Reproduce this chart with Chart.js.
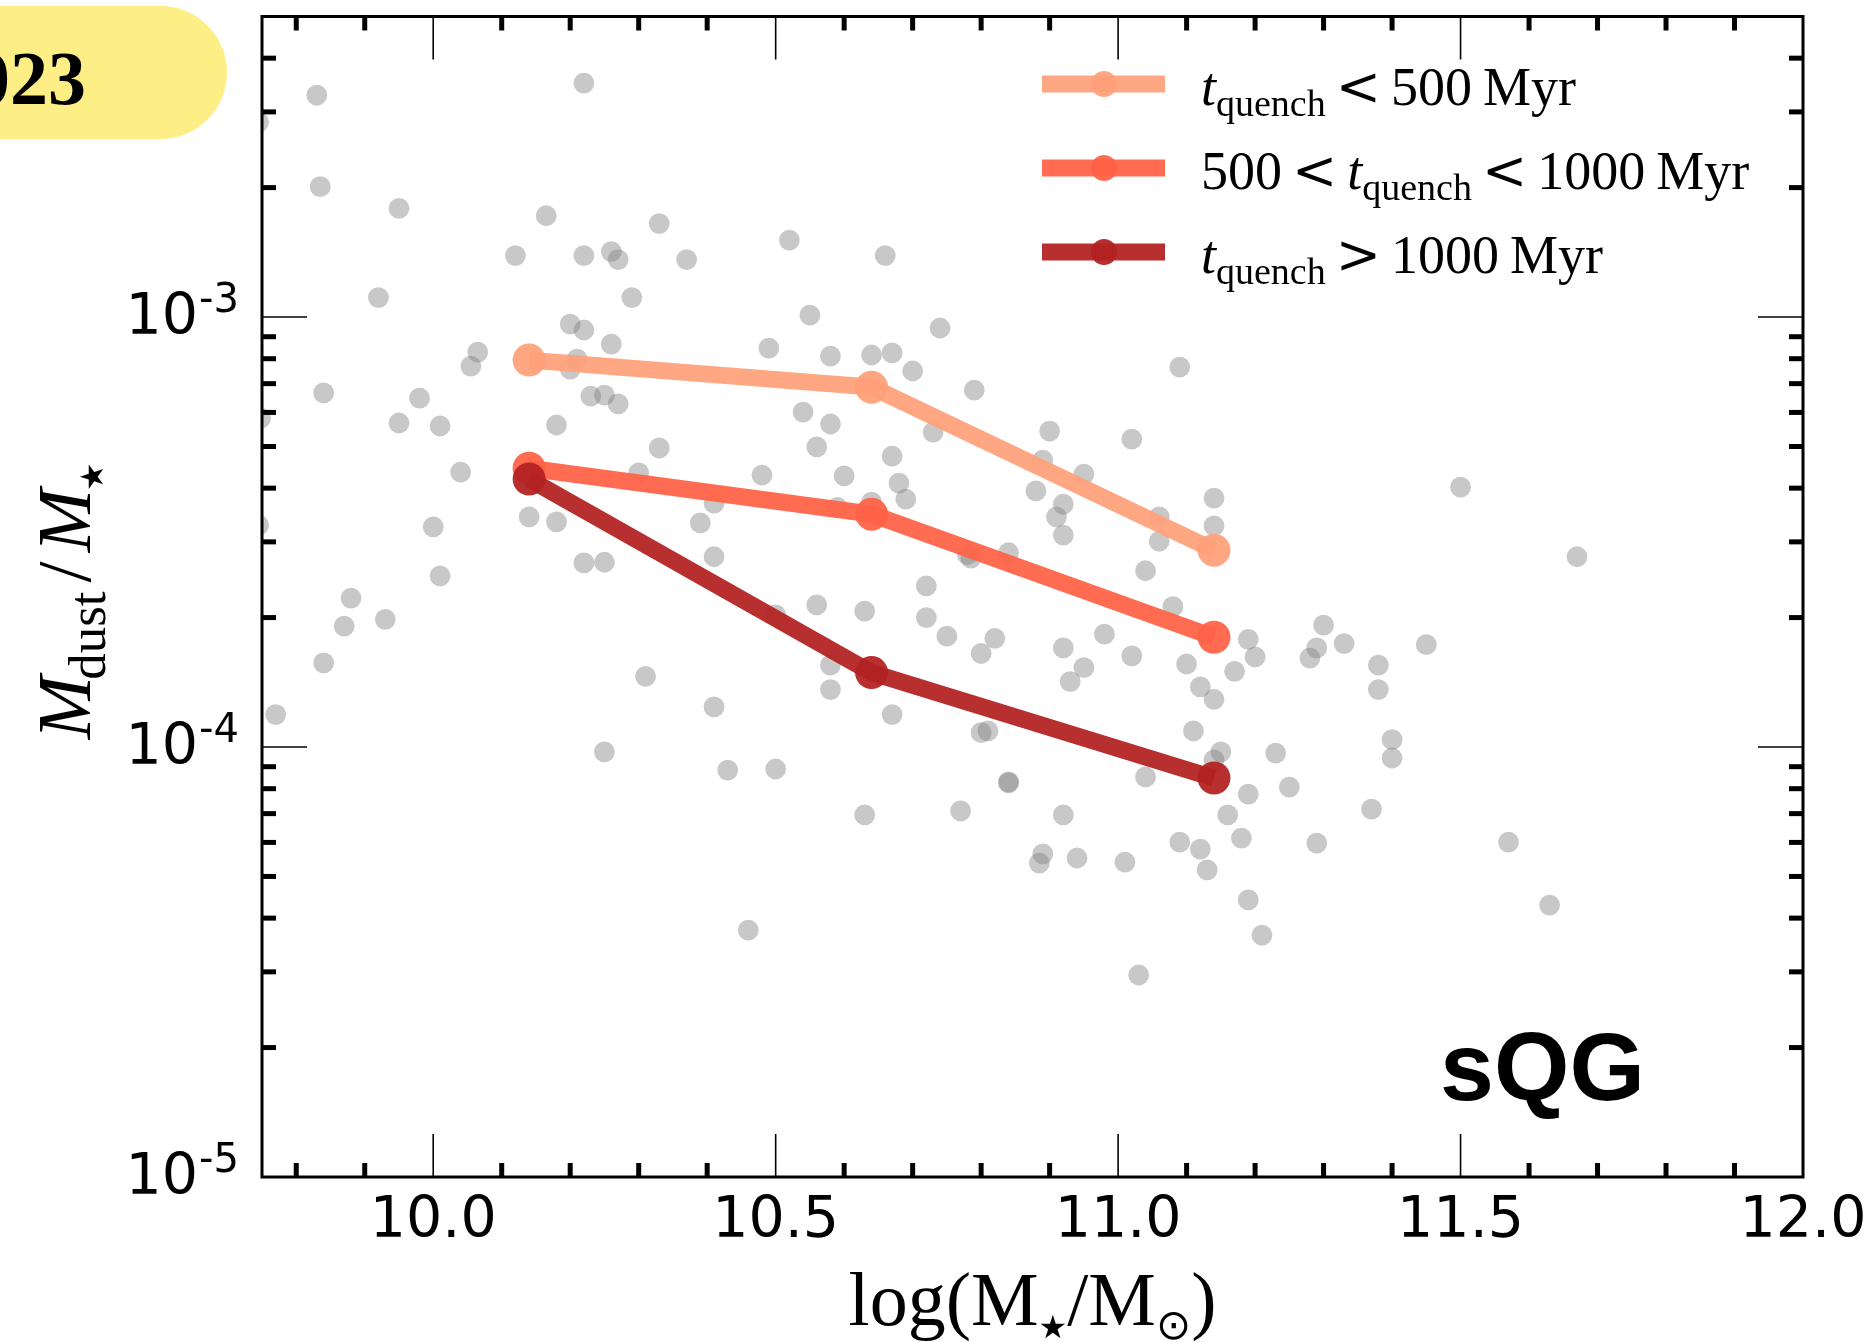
<!DOCTYPE html>
<html>
<head>
<meta charset="utf-8">
<script src="https://cdn.jsdelivr.net/npm/chart.js@4.4.1/dist/chart.umd.min.js"></script>
<style>
  html, body { margin: 0; padding: 0; background: #ffffff; overflow: hidden; }
  #wrap { position: relative; width: 1874px; height: 1342px; }
  #c { position: absolute; left: 0; top: 0; }
</style>
</head>
<body>
<div id="wrap"><canvas id="c" width="1874" height="1342"></canvas></div>
<script>
// Median dust-to-stellar mass ratio in stellar-mass bins, split by quenching time
const massBins = [10.14, 10.64, 11.14];
const quenchShort = [7.94e-4, 6.87e-4, 2.87e-4];   // t_quench < 500 Myr
const quenchMid   = [4.45e-4, 3.48e-4, 1.80e-4];   // 500 < t_quench < 1000 Myr
const quenchLong  = [4.20e-4, 1.49e-4, 8.47e-5];   // t_quench > 1000 Myr

// Individual galaxies: log stellar mass and dust-to-stellar mass ratio
const galaxyLogMass = [
  9.83, 10.22, 9.835, 9.95, 10.165, 10.33, 10.12, 10.22, 10.26, 10.27,
  10.37, 10.52, 10.66, 9.92, 10.29, 10.55, 10.74, 10.20, 10.22, 10.26,
  10.065, 10.055, 10.21, 10.20, 10.49, 10.58, 10.64, 10.67, 10.70, 9.84,
  9.98, 10.23, 10.25, 10.27, 9.95, 10.01, 10.18, 10.54, 10.58, 10.73,
  10.33, 10.56, 10.67, 10.04, 10.30, 10.48, 10.60, 10.68, 10.69, 10.41,
  10.59, 10.64, 10.14, 10.18, 10.39, 10.00, 9.745, 9.748, 9.745,
  10.79, 11.09, 10.90, 11.02, 10.89, 10.95, 10.88, 10.92, 10.91, 10.92,
  11.06, 11.14, 11.14, 11.50,
  10.22, 10.25, 10.41, 10.01, 9.88, 9.87, 9.93, 9.84, 9.77, 10.31,
  10.41, 10.56, 10.63, 10.72, 10.72, 10.50, 10.58, 10.58, 10.67, 10.25,
  10.43, 10.50, 10.63, 10.46,
  11.06, 11.67, 10.78, 10.785, 10.84, 11.04, 11.08, 10.75, 10.82, 10.80,
  10.92, 10.98, 11.02, 10.95, 10.93, 11.10, 11.19, 11.20, 11.17, 11.12,
  11.14, 11.30, 11.29, 11.28, 11.33, 11.38, 11.38, 11.45, 11.11, 11.15,
  11.14, 11.23, 11.40, 11.40, 10.80, 10.81, 10.84, 10.84, 11.04, 11.19,
  11.25, 11.16, 10.77, 10.92, 11.37, 11.09, 11.12, 11.18, 11.29, 11.57,
  10.89, 10.885, 10.94, 11.01, 11.13, 11.19, 11.21, 11.63, 11.03
];
const galaxyDustRatio = [
  3.28e-3, 3.50e-3, 2.01e-3, 1.79e-3, 1.72e-3, 1.65e-3, 1.39e-3, 1.39e-3, 1.42e-3, 1.36e-3,
  1.36e-3, 1.51e-3, 1.39e-3, 1.11e-3, 1.11e-3, 1.01e-3, 9.43e-4, 9.63e-4, 9.33e-4, 8.65e-4,
  8.29e-4, 7.69e-4, 7.98e-4, 7.57e-4, 8.47e-4, 8.11e-4, 8.16e-4, 8.25e-4, 7.49e-4, 6.66e-4,
  6.48e-4, 6.55e-4, 6.58e-4, 6.28e-4, 5.67e-4, 5.58e-4, 5.61e-4, 6.01e-4, 5.64e-4, 5.40e-4,
  4.96e-4, 4.99e-4, 4.75e-4, 4.36e-4, 4.34e-4, 4.29e-4, 4.27e-4, 4.11e-4, 3.77e-4, 3.69e-4,
  3.61e-4, 3.71e-4, 3.43e-4, 3.34e-4, 3.32e-4, 3.25e-4, 2.84e-3, 5.82e-4, 3.28e-4,
  6.76e-4, 7.65e-4, 5.43e-4, 5.20e-4, 4.65e-4, 4.31e-4, 3.94e-4, 3.67e-4, 3.43e-4, 3.11e-4,
  3.43e-4, 3.79e-4, 3.27e-4, 4.02e-4,
  2.68e-4, 2.69e-4, 2.77e-4, 2.50e-4, 2.22e-4, 1.91e-4, 1.98e-4, 1.57e-4, 1.19e-4, 1.46e-4,
  1.24e-4, 2.14e-4, 2.07e-4, 2.37e-4, 2.00e-4, 2.03e-4, 1.55e-4, 1.36e-4, 1.19e-4, 9.74e-5,
  8.84e-5, 8.89e-5, 6.95e-5, 3.75e-5,
  3.01e-4, 2.77e-4, 2.80e-4, 2.75e-4, 2.83e-4, 2.57e-4, 2.12e-4, 1.81e-4, 1.79e-4, 1.65e-4,
  1.70e-4, 1.83e-4, 1.63e-4, 1.53e-4, 1.42e-4, 1.56e-4, 1.78e-4, 1.62e-4, 1.50e-4, 1.38e-4,
  1.29e-4, 1.92e-4, 1.70e-4, 1.61e-4, 1.74e-4, 1.55e-4, 1.36e-4, 1.73e-4, 1.09e-4, 9.74e-5,
  9.33e-5, 9.68e-5, 1.04e-4, 9.43e-5, 1.08e-4, 1.09e-4, 8.25e-5, 8.30e-5, 8.52e-5, 7.77e-5,
  8.07e-5, 6.95e-5, 7.10e-5, 6.95e-5, 7.17e-5, 6.01e-5, 5.79e-5, 6.14e-5, 5.98e-5, 6.01e-5,
  5.64e-5, 5.37e-5, 5.52e-5, 5.40e-5, 5.18e-5, 4.41e-5, 3.65e-5, 4.29e-5, 2.95e-5
];

// Axis ticks and labels
const xTickValues = [10.0, 10.5, 11.0, 11.5, 12.0];
const yTickValues = [1e-5, 1e-4, 1e-3];
const yTickExponents = ['-5', '-4', '-3'];

// Legend entries, as (text, style) runs
const legendEntries = [
  [['t', 'it'], ['quench', 'sub'], ['<', 'rel'], ['500', 'rm'], ['Myr', 'unit']],
  [['500', 'rm'], ['<', 'rel'], ['t', 'it'], ['quench', 'sub'], ['<', 'rel'], ['1000', 'rm'], ['Myr', 'unit']],
  [['t', 'it'], ['quench', 'sub'], ['>', 'rel'], ['1000', 'rm'], ['Myr', 'unit']]
];
const panelTag = 'sQG';
const badgeText = '023';

const SERIF = '"Liberation Serif", "DejaVu Serif", serif';
const SANS = '"DejaVu Sans", sans-serif';

// draw (or just measure) a sequence of styled text runs; pre/post add spacing
function runs(ctx, parts, x, y, draw) {
  let cx = x;
  for (const p of parts) {
    cx += p.pre || 0;
    ctx.font = p.font;
    if (draw) ctx.fillText(p.text, cx, y + (p.dy || 0));
    cx += ctx.measureText(p.text).width + (p.post || 0);
  }
  return cx - x;
}

function seg(ctx, x1, y1, x2, y2) {
  ctx.beginPath(); ctx.moveTo(x1, y1); ctx.lineTo(x2, y2); ctx.stroke();
}

const decorations = {
  id: 'decorations',
  afterDraw(chart) {
    const ctx = chart.ctx;
    const a = chart.chartArea;
    const xs = chart.scales.x, ys = chart.scales.y;
    ctx.save();
    ctx.fillStyle = '#000';
    ctx.strokeStyle = '#000';
    ctx.textAlign = 'left';
    ctx.textBaseline = 'alphabetic';

    // year badge in the corner
    ctx.fillStyle = '#fdef85';
    ctx.beginPath();
    const bTop = 6, bBot = 139, bRight = 227, r = (bBot - bTop) / 2;
    ctx.moveTo(-50, bTop);
    ctx.lineTo(bRight - r, bTop);
    ctx.arc(bRight - r, bTop + r, r, -Math.PI / 2, Math.PI / 2);
    ctx.lineTo(-50, bBot);
    ctx.closePath();
    ctx.fill();
    ctx.fillStyle = '#000';
    ctx.font = 'bold 76px ' + SERIF;
    ctx.fillText(badgeText, -28, 104);

    // axes frame
    ctx.lineWidth = 3;
    ctx.strokeRect(a.left, a.top, a.right - a.left, a.bottom - a.top);

    // x ticks, inward on bottom and top
    ctx.lineWidth = 1.6;
    for (const v of xTickValues) {
      const px = xs.getPixelForValue(v);
      seg(ctx, px, a.bottom, px, a.bottom - 43);
      seg(ctx, px, a.top, px, a.top + 43);
    }
    ctx.lineWidth = 5;
    for (let k = Math.ceil(xs.min * 10 + 1e-6); k < xs.max * 10 - 1e-6; k++) {
      if (k % 5 === 0) continue;
      const px = xs.getPixelForValue(k / 10);
      seg(ctx, px, a.bottom, px, a.bottom - 14);
      seg(ctx, px, a.top, px, a.top + 14);
    }

    // y ticks, inward on left and right
    ctx.lineWidth = 1.6;
    for (const v of yTickValues) {
      const py = ys.getPixelForValue(v);
      seg(ctx, a.left, py, a.left + 45, py);
      seg(ctx, a.right, py, a.right - 45, py);
    }
    ctx.lineWidth = 5;
    for (let d = -5; d <= -3; d++) {
      for (let m = 2; m <= 9; m++) {
        const v = m * Math.pow(10, d);
        if (v >= ys.max * 0.999) continue;
        const py = ys.getPixelForValue(v);
        seg(ctx, a.left, py, a.left + 14, py);
        seg(ctx, a.right, py, a.right - 14, py);
      }
    }

    // y tick labels: 10 with a raised exponent
    yTickValues.forEach((v, i) => {
      const py = ys.getPixelForValue(v);
      ctx.font = '40px ' + SANS;
      const wSup = ctx.measureText(yTickExponents[i]).width;
      const right = 239;
      ctx.fillText(yTickExponents[i], right - wSup, py - 5);
      ctx.font = '57px ' + SANS;
      const wBase = ctx.measureText('10').width;
      ctx.fillText('10', right - wSup - wBase - 1, py + 17);
    });

    // axis titles
    const big = 76;
    const xTitle = [
      { text: 'log(', font: big + 'px ' + SERIF },
      { text: 'M', font: big + 'px ' + SERIF },
      { text: '\u2605', font: '32px ' + SANS, dy: 13 },
      { text: '/', font: big + 'px ' + SERIF },
      { text: 'M', font: big + 'px ' + SERIF },
      { text: '\u2299', font: '42px ' + SANS, dy: 14 },
      { text: ')', font: big + 'px ' + SERIF }
    ];
    const xc = (a.left + a.right) / 2;
    const wx = runs(ctx, xTitle, 0, 0, false);
    runs(ctx, xTitle, xc - wx / 2, 1325, true);

    const yTitle = [
      { text: 'M', font: 'italic ' + big + 'px ' + SERIF },
      { text: 'dust', font: '53px ' + SERIF, dy: 15, pre: -4 },
      { text: '/', font: big + 'px ' + SERIF, pre: 9, post: 9 },
      { text: 'M', font: 'italic ' + big + 'px ' + SERIF },
      { text: '\u2605', font: '32px ' + SANS, dy: 13, pre: -2 }
    ];
    const wy = runs(ctx, yTitle, 0, 0, false);
    ctx.save();
    ctx.translate(90, (a.top + a.bottom) / 2 + 4);
    ctx.rotate(-Math.PI / 2);
    runs(ctx, yTitle, -wy / 2, 0, true);
    ctx.restore();

    // legend
    const styles = {
      rm: { font: '54px ' + SERIF, dy: 0 },
      unit: { font: '54px ' + SERIF, dy: 0, pre: 11 },
      rel: { font: '54px "DejaVu Serif", serif', dy: 0, pre: 10, post: 10 },
      it: { font: 'italic 54px ' + SERIF, dy: 0 },
      sub: { font: '38px ' + SERIF, dy: 11 }
    };
    const lines = chart.data.datasets.filter(ds => ds.showLine);
    lines.forEach((ds, i) => {
      const rowY = 84 + i * 84;
      ctx.strokeStyle = ds.borderColor;
      ctx.lineWidth = ds.borderWidth;
      ctx.lineCap = 'butt';
      seg(ctx, 1042, rowY, 1165, rowY);
      ctx.fillStyle = ds.pointBackgroundColor;
      ctx.beginPath(); ctx.arc(1104, rowY, 13, 0, Math.PI * 2); ctx.fill();
      ctx.fillStyle = '#000';
      const parts = legendEntries[i].map(([t, s]) => Object.assign({ text: t }, styles[s]));
      runs(ctx, parts, 1201, rowY + 21, true);
    });

    // panel tag
    ctx.fillStyle = '#000';
    ctx.font = 'bold 97px "Liberation Sans", Arial, sans-serif';
    ctx.fillText(panelTag, 1440, 1100);

    ctx.restore();
  }
};

const galaxyPoints = galaxyLogMass.map((m, i) => ({ x: m, y: galaxyDustRatio[i] }));
const binLine = vals => massBins.map((m, i) => ({ x: m, y: vals[i] }));

function lineSet(label, vals, color, order) {
  return {
    label, data: binLine(vals), showLine: true,
    borderColor: color, backgroundColor: color,
    pointBackgroundColor: color, pointBorderColor: color,
    borderWidth: 17, pointRadius: 16.5, pointHoverRadius: 16.5, pointBorderWidth: 0,
    order, clip: 0
  };
}

new Chart(document.getElementById('c'), {
  type: 'scatter',
  data: {
    datasets: [
      {
        label: 'galaxies', data: galaxyPoints,
        pointBackgroundColor: 'rgba(128,128,128,0.43)', pointBorderWidth: 0,
        pointRadius: 10.4, pointHoverRadius: 10.4, order: 4, clip: 0
      },
      lineSet('t_quench < 500 Myr', quenchShort, 'rgba(255,160,122,0.94)', 3),
      lineSet('500 < t_quench < 1000 Myr', quenchMid, 'rgba(255,99,71,0.94)', 2),
      lineSet('t_quench > 1000 Myr', quenchLong, 'rgba(178,34,34,0.94)', 1)
    ]
  },
  options: {
    responsive: false,
    animation: false,
    devicePixelRatio: 1,
    events: [],
    layout: { padding: { left: 0, top: 16, right: 71, bottom: 0 } },
    plugins: { legend: { display: false }, tooltip: { enabled: false } },
    scales: {
      x: {
        type: 'linear', position: 'bottom', min: 9.75, max: 12.0,
        grid: { display: false, drawTicks: false }, border: { display: false },
        afterBuildTicks: s => { s.ticks = xTickValues.map(v => ({ value: v })); },
        afterFit: s => { s.height = 165; },
        ticks: {
          color: '#000', padding: 5, maxRotation: 0, autoSkip: false,
          font: { family: '"DejaVu Sans"', size: 57, lineHeight: 1.4 },
          callback: v => Number(v).toFixed(1)
        }
      },
      y: {
        type: 'logarithmic', position: 'left', min: 1e-5, max: 5e-3,
        grid: { display: false, drawTicks: false }, border: { display: false },
        afterBuildTicks: s => { s.ticks = yTickValues.map(v => ({ value: v })); },
        afterFit: s => { s.width = 262; },
        ticks: { display: false }
      }
    }
  },
  plugins: [decorations]
});
</script>
</body>
</html>
